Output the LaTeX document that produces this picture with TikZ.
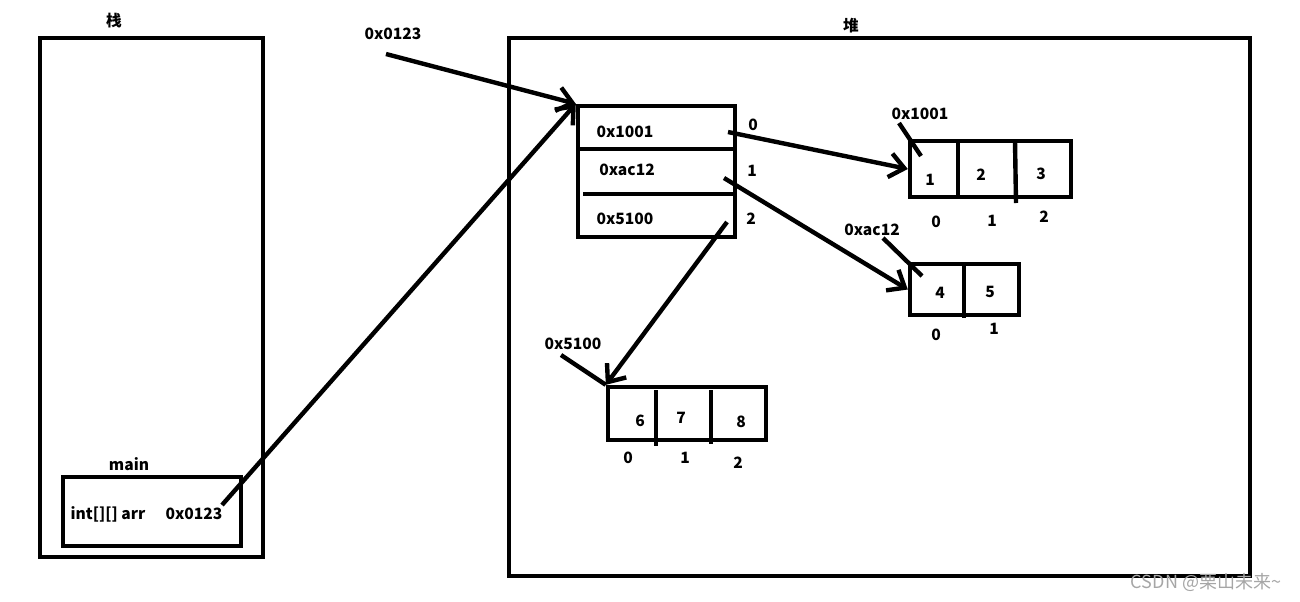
\documentclass[tikz,border=0pt]{standalone}
\usepackage{fontspec}
\setmainfont{Noto Sans CJK SC}
\usetikzlibrary{arrows.meta,fit,positioning}
\tikzset{%
    box/.style={%
        draw, line width=3.3pt, inner sep=0pt
    },
    bar/.style={%
        line width=3.3pt
    },
    txt/.style={%
        font=\bfseries\fontsize{11.7}{13}\selectfont
    },
    ptr/.style={%
        line width=3.3pt, -{Straight Barb[length=11pt,width=18pt]}
    },
    wmark/.style={%
        font=\fontsize{13.5}{15}\selectfont, text=gray!70
    },
}
\begin{document}
\begin{tikzpicture}[x=0.75pt,y=-0.75pt]
  \useasboundingbox (0,0) rectangle (1300,601);
  % stack
  \node[box, fit={(40,38) (263,557)}] (stack) {};
  \node[txt] (stacklbl) at (114,21) {栈};
  \node[box, fit={(63,477) (241,546)}] (frame) {};
  \node[txt] (mainlbl) at (129,464) {main};
  \node[txt] (var) at (108,514) {int[][] arr};
  \node[txt] (ref) at (194,514) {0x0123};
  % heap
  \node[box, fit={(509,38) (1250,576)}] (heap) {};
  \node[txt] (heaplbl) at (851,26) {堆};
  \node[txt] (topaddr) at (393,34) {0x0123};
  % outer array
  \node[box, fit={(578,106) (735,237)}] (outer) {};
  \draw[bar] (578,149) -- (735,149);
  \draw[bar] (583,194) -- (735,194);
  \node[txt] (o0) at (625,132) {0x1001};
  \node[txt] (o1) at (627,170) {0xac12};
  \node[txt] (o2) at (625,219) {0x5100};
  \node[txt] (i0) at (753,125) {0};
  \node[txt] (i1) at (752,171) {1};
  \node[txt] (i2) at (751,219) {2};
  % first row
  \node[box, fit={(910,141) (1071,197)}] (rowa) {};
  \draw[bar] (958,141) -- (958,197);
  \draw[bar] (1015,141) -- (1016,203);
  \node[txt] (a0) at (930,180) {1};
  \node[txt] (a1) at (981,175) {2};
  \node[txt] (a2) at (1041,174) {3};
  \node[txt] (ai0) at (936,222) {0};
  \node[txt] (ai1) at (992,221) {1};
  \node[txt] (ai2) at (1044,217) {2};
  \node[txt] (aaddr) at (920,114) {0x1001};
  % second row
  \node[box, fit={(910,264) (1019,315)}] (rowb) {};
  \draw[bar] (964,264) -- (964,318);
  \node[txt] (b0) at (940,293) {4};
  \node[txt] (b1) at (990,292) {5};
  \node[txt] (bi0) at (936,335) {0};
  \node[txt] (bi1) at (994,329) {1};
  \node[txt] (baddr) at (872,230) {0xac12};
  % third row
  \node[box, fit={(608,387) (766,440)}] (rowc) {};
  \draw[bar] (656,390) -- (656,446);
  \draw[bar] (711,390) -- (711,444);
  \node[txt] (c0) at (640,421) {6};
  \node[txt] (c1) at (681,418) {7};
  \node[txt] (c2) at (741,422) {8};
  \node[txt] (ci0) at (628,458) {0};
  \node[txt] (ci1) at (685,458) {1};
  \node[txt] (ci2) at (738,463) {2};
  \node[txt] (caddr) at (573,344) {0x5100};
  % arrows
  \coordinate (s0) at (386,54);
  \coordinate (s1) at (222,505);
  \coordinate (s2) at (728,132);
  \coordinate (s3) at (724,178);
  \coordinate (s4) at (727,222);
  \draw[ptr] (s0) -- (outer.north west);
  \draw[ptr] (s1) -- (outer.north west);
  \draw[ptr] (s2) -- (rowa.west);
  \draw[ptr] (s3) -- (rowb.west);
  \draw[ptr] (s4) -- (rowc.north west);
  \coordinate (pa) at (921,156);
  \coordinate (pb) at (922,276);
  \draw[bar] (899,123) -- (pa);
  \draw[bar] (883,238) -- (pb);
  \draw[bar] (561,355) -- (rowc.north west);
  \node[wmark] (wm) at (1206,582) {CSDN @栗山未来\textasciitilde};
\end{tikzpicture}
\end{document}
